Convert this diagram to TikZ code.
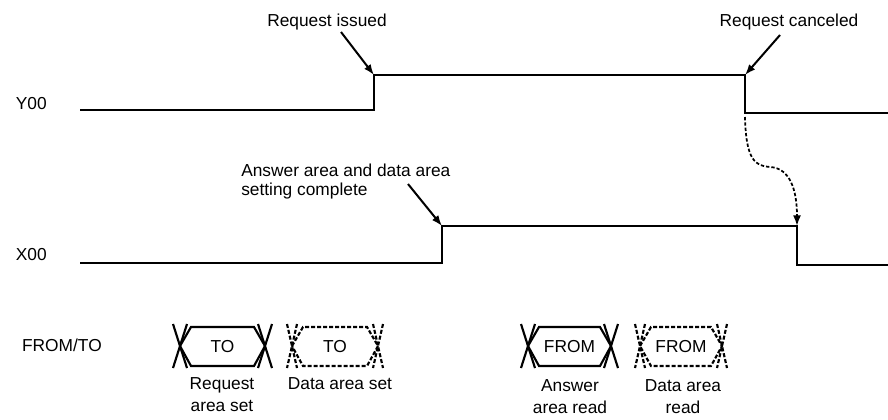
\documentclass[tikz,border=0pt]{standalone}
\usepackage{fontspec}
\setmainfont{Liberation Sans}
\usetikzlibrary{arrows.meta}
\begin{document}
\begin{tikzpicture}[x=0.75pt,y=-0.75pt,
    wave/.style={line width=1.8pt},
    pointer/.style={line width=1.5pt,-{Latex[length=8pt,width=6pt]}},
    lbl/.style={font=\fontsize{13}{16.5}\selectfont,inner sep=0pt},
    solidcell/.style={line width=1.6pt},
    dashcell/.style={line width=1.6pt,dash pattern=on 3pt off 1.5pt}]
  \useasboundingbox (0,0) rectangle (888,419);
  \draw
    (47,109) node[lbl,anchor=base east] (y00){Y00}
    (47,260) node[lbl,anchor=base east] (x00){X00}
    (102,351) node[lbl,anchor=base east] (fromto){FROM/TO}
    (327,26) node[lbl,anchor=base] (issued){Request issued}
    (789,26) node[lbl,anchor=base] (canceled){Request canceled}
    (241,176) node[lbl,anchor=base west] (complete){Answer area and data area}
    (241,195) node[lbl,anchor=base west] (complete2){setting complete};
  % signal edges
  \coordinate (yrise) at (374,75);
  \coordinate (yfall) at (745,75);
  \coordinate (xrise) at (442,226);
  \coordinate (xfall) at (797,226);
  \draw[wave] (80,110) -- (374,110) -- (yrise) -- (yfall) -- (745,113) -- (888,113);
  \draw[wave] (80,263) -- (442,263) -- (xrise) -- (xfall) -- (797,265) -- (888,265);
  % pointers
  \coordinate (issuedtail) at (341,32);
  \coordinate (canceledtail) at (780,35);
  \coordinate (completetail) at (408,184);
  \coordinate (ydrop) at (745,117);
  \draw[pointer] (issuedtail) -- (yrise);
  \draw[pointer] (canceledtail) -- (yfall);
  \draw[pointer] (completetail) -- (xrise);
  \draw[pointer,dash pattern=on 2.5pt off 1.5pt,line width=1.3pt]
    (ydrop) .. controls (746,160) and (755,166) .. (770,167)
    .. controls (790,168) and (797,190) .. (xfall);
  % FROM/TO cells
  \foreach \l/\r/\st/\txt/\w [count=\i] in {180/265/solidcell/TO/7, 292/378/dashcell/TO/5,
      528/611/solidcell/FROM/7, 640/722/dashcell/FROM/5}{
    \draw[\st] (\l,346) -- (\l+11,327) -- (\r-11,327) -- (\r,346) -- (\r-11,366) -- (\l+11,366) -- cycle;
    \draw[\st] (\l-\w,324) -- (\l+\w,368) (\l+\w,324) -- (\l-\w,368)
      (\r-\w,324) -- (\r+\w,368) (\r+\w,324) -- (\r-\w,368);
    \node[lbl] (cell\i) at ({(\l+\r)/2},346.5) {\txt};
  }
  \node[lbl,align=center,anchor=base] (cap1) at (222,411) {Request\\area set};
  \node[lbl,anchor=base] (cap2) at (340,389) {Data area set};
  \node[lbl,align=center,anchor=base] (cap3) at (570,413) {Answer\\area read};
  \node[lbl,align=center,anchor=base] (cap4) at (683,413) {Data area\\read};
\end{tikzpicture}
\end{document}
